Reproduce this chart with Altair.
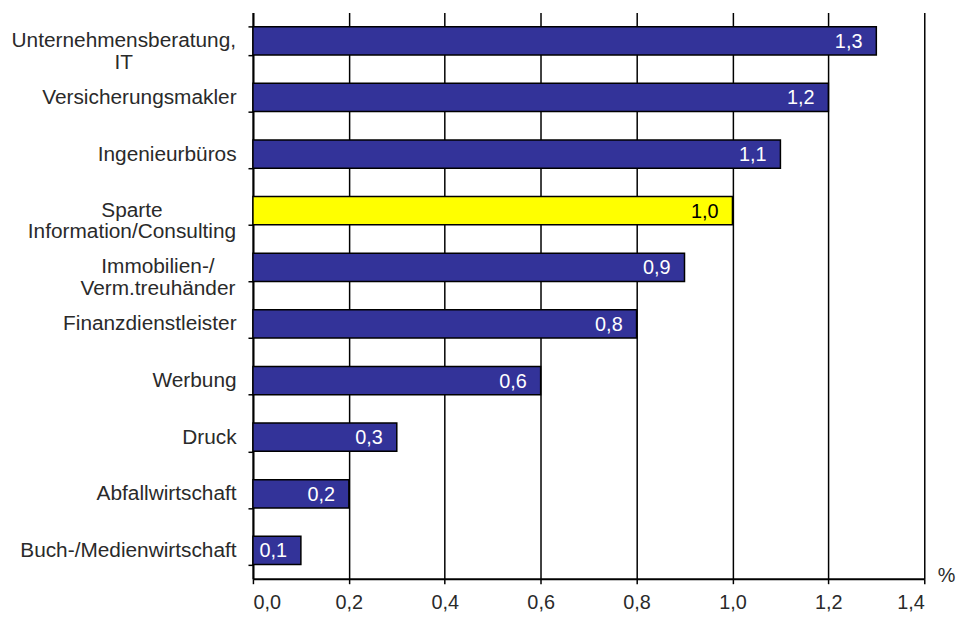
import altair as alt
import pandas as pd

# --- data ---
categories = [
    "Unternehmensberatung,|IT",
    "Versicherungsmakler",
    "Ingenieurbüros",
    "Sparte|Information/Consulting",
    "Immobilien-/|Verm.treuhänder",
    "Finanzdienstleister",
    "Werbung",
    "Druck",
    "Abfallwirtschaft",
    "Buch-/Medienwirtschaft",
]
values = [1.3, 1.2, 1.1, 1.0, 0.9, 0.8, 0.6, 0.3, 0.2, 0.1]
highlight = "Sparte|Information/Consulting"
x_ticks = [0.0, 0.2, 0.4, 0.6, 0.8, 1.0, 1.2, 1.4]

df = pd.DataFrame({"Branche": categories, "Wert": values})

FONT = "Liberation Sans"
FS_Y = 21
FS = 20
W, H = 677, 571
TICK = 5
BASE_PAD = 12
LABEL_COLOR = "#2a2a2a"

# approximate widths (em) of the longest line of multi-line labels (to centre the lines)
multi_em = {
    "Unternehmensberatung,|IT": 10.78,
    "Sparte|Information/Consulting": 10.0,
    "Immobilien-/|Verm.treuhänder": 7.5,
}
cx_expr = "0"
for k, em in multi_em.items():
    cx_expr = f"datum.Branche == '{k}' ? {-(TICK + BASE_PAD + em * FS_Y / 2):.1f} : ({cx_expr})"

y_axis = alt.Axis(
    labelExpr="indexof(datum.label, '|') >= 0 ? '' : datum.label",
    labelFont=FONT,
    labelFontSize=FS_Y,
    labelColor=LABEL_COLOR,
    labelPadding=BASE_PAD,
    labelBaseline="middle",
    tickBand="extent",
    tickColor="black",
    tickSize=TICK,
    tickWidth=1.5,
    domainColor="black",
    domainWidth=2,
    grid=False,
    labelLimit=400,
)

x_axis = alt.Axis(
    values=x_ticks,
    labelExpr="replace(format(datum.value, '.1f'), '.', ',')",
    labelFont=FONT,
    labelFontSize=FS,
    labelColor=LABEL_COLOR,
    labelPadding=9,
    tickColor="black",
    tickSize=TICK,
    tickWidth=1.5,
    domainColor="black",
    domainWidth=2,
    grid=True,
    gridColor="black",
    gridWidth=1.5,
    gridOpacity=1,
    title="%",
    titleFont=FONT,
    titleFontSize=FS,
    titleFontWeight="normal",
    titleColor=LABEL_COLOR,
    titleX=W + 22,
    titleY=-3,
    titleAlign="center",
    titleBaseline="middle",
    titleAngle=0,
)

x_enc = alt.X("Wert:Q", scale=alt.Scale(domain=[0, 1.4], nice=False), axis=x_axis)
y_enc = alt.Y(
    "Branche:N",
    sort=categories,
    title=None,
    scale=alt.Scale(paddingInner=0.5, paddingOuter=0.25),
    axis=y_axis,
)

base = alt.Chart(df)

bars = base.mark_bar(stroke="black", strokeWidth=1.5).encode(
    x=x_enc,
    y=y_enc,
    color=alt.condition(
        alt.datum.Branche == highlight, alt.value("#FFFF00"), alt.value("#333399")
    ),
)

values_text = (
    base.transform_calculate(txt="replace(format(datum.Wert, '.1f'), '.', ',')")
    .mark_text(align="right", baseline="middle", dx=-14, dy=1, font=FONT, fontSize=FS)
    .encode(
        x=x_enc,
        y=y_enc,
        text="txt:N",
        color=alt.condition(
            alt.datum.Branche == highlight, alt.value("black"), alt.value("white")
        ),
    )
)

# multi-line category labels, each line centred (as in the reference)
multi_labels = (
    base.transform_filter("indexof(datum.Branche, '|') >= 0")
    .transform_calculate(lines="split(datum.Branche, '|')", cx=cx_expr)
    .mark_text(
        align="center",
        baseline="middle",
        font=FONT,
        fontSize=FS_Y,
        lineHeight=22,
        color=LABEL_COLOR,
    )
    .encode(
        x=alt.X("cx:Q", scale=None, axis=None),
        y=y_enc,
        text="lines:N",
    )
)

chart = (
    alt.layer(bars, values_text, multi_labels)
    .properties(
        width=W,
        height=H,
        autosize=alt.AutoSizeParams(type="none"),
        padding={"left": 247, "top": 2, "right": 33, "bottom": 32},
    )
    .configure_view(stroke=None)
)

chart.save("out.html", embed_options={"renderer": "svg", "actions": False})
